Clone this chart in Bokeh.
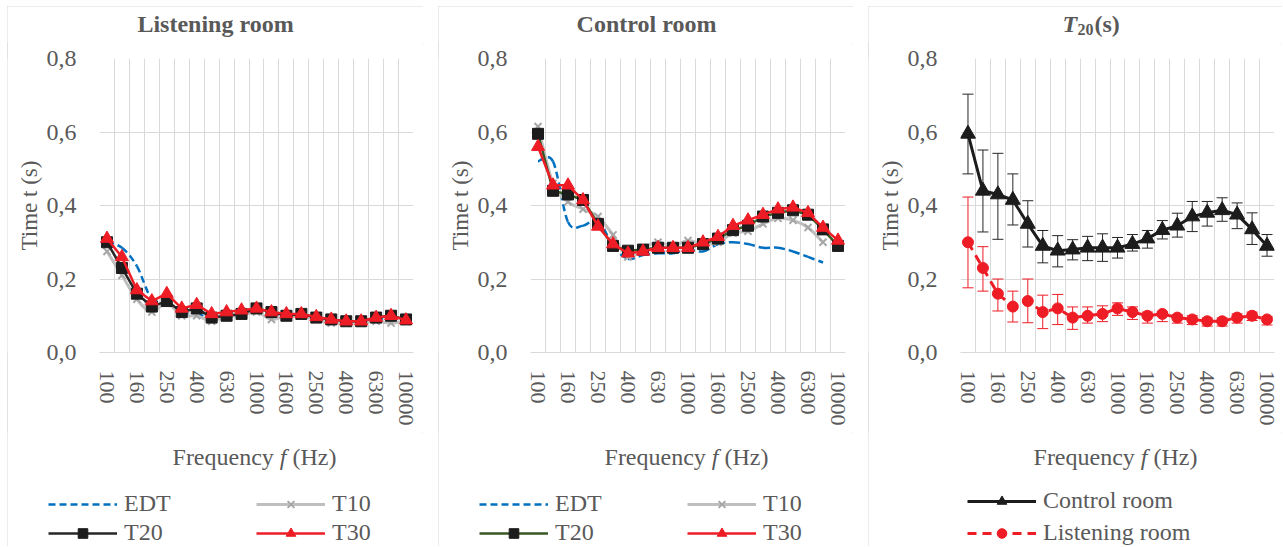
import math
from bokeh.plotting import figure
from bokeh.models import (Range1d, FixedTicker, Label, Legend, LegendItem,
                          Whisker, TeeHead, ColumnDataSource, Spacer)
from bokeh.layouts import row, column
from bokeh.embed import file_html
from bokeh.resources import INLINE

# ---------------- data ----------------
freqs = ["100", "125", "160", "200", "250", "315", "400", "500", "630", "800",
         "1000", "1250", "1600", "2000", "2500", "3150", "4000", "5000",
         "6300", "8000", "10000"]
y_ticks = [0.0, 0.2, 0.4, 0.6, 0.8]
y_tick_labels = ["0,0", "0,2", "0,4", "0,6", "0,8"]

# Listening room
lr_edt = [0.30, 0.285, 0.235, 0.145, 0.14, 0.11, 0.105, 0.095, 0.10, 0.10,
          0.115, 0.105, 0.10, 0.10, 0.095, 0.09, 0.085, 0.085, 0.09, 0.095, 0.09]
lr_t10 = [0.275, 0.21, 0.145, 0.11, 0.135, 0.10, 0.10, 0.085, 0.10, 0.10,
          0.11, 0.09, 0.10, 0.10, 0.09, 0.08, 0.08, 0.08, 0.085, 0.08, 0.085]
lr_t20 = [0.30, 0.23, 0.16, 0.125, 0.14, 0.11, 0.12, 0.095, 0.10, 0.105,
          0.12, 0.11, 0.10, 0.105, 0.095, 0.09, 0.085, 0.085, 0.095, 0.10, 0.09]
lr_t30 = [0.31, 0.26, 0.17, 0.14, 0.16, 0.12, 0.13, 0.105, 0.11, 0.115,
          0.12, 0.11, 0.105, 0.105, 0.097, 0.09, 0.085, 0.085, 0.095, 0.10, 0.088]

# Control room (EDT and T10 end at 8000 Hz)
cr_edt = [0.52, 0.52, 0.355, 0.345, 0.36, 0.29, 0.255, 0.265, 0.27, 0.27,
          0.28, 0.275, 0.295, 0.30, 0.295, 0.285, 0.285, 0.275, 0.26, 0.245]
cr_t10 = [0.615, 0.46, 0.41, 0.39, 0.37, 0.32, 0.26, 0.285, 0.30, 0.29,
          0.305, 0.295, 0.30, 0.325, 0.33, 0.35, 0.365, 0.36, 0.34, 0.30]
cr_t20 = [0.595, 0.44, 0.43, 0.415, 0.35, 0.29, 0.277, 0.28, 0.285, 0.285,
          0.285, 0.295, 0.31, 0.333, 0.345, 0.37, 0.38, 0.387, 0.375, 0.335, 0.29]
cr_t30 = [0.56, 0.455, 0.455, 0.415, 0.343, 0.295, 0.27, 0.275, 0.285, 0.285,
          0.285, 0.30, 0.315, 0.345, 0.36, 0.375, 0.39, 0.395, 0.38, 0.34, 0.305]

# T20 spread (error bars)
cr_upper = [0.703, 0.551, 0.542, 0.486, 0.413, 0.332, 0.318, 0.307, 0.316, 0.323,
            0.313, 0.321, 0.332, 0.359, 0.379, 0.411, 0.411, 0.421, 0.407, 0.38, 0.321]
cr_lower = [0.486, 0.328, 0.308, 0.347, 0.287, 0.244, 0.233, 0.252, 0.25, 0.248,
            0.257, 0.276, 0.284, 0.309, 0.314, 0.329, 0.344, 0.357, 0.337, 0.294, 0.262]
lr_upper = [0.423, 0.288, 0.20, 0.167, 0.20, 0.156, 0.158, 0.124, 0.124, 0.127,
            0.135, 0.124, 0.11, 0.11, 0.103, 0.10, 0.094, 0.094, 0.105, 0.11, 0.098]
lr_lower = [0.176, 0.167, 0.113, 0.083, 0.081, 0.065, 0.076, 0.063, 0.08, 0.084,
            0.101, 0.09, 0.08, 0.084, 0.08, 0.076, 0.072, 0.072, 0.08, 0.087, 0.075]

# ---------------- style ----------------
FONT = "Liberation Serif"
TXT = "#595959"
GRID = "#d9d9d9"
BLUE = "#0070c0"
GREY = "#bfbfbf"
BLACK = "#1c1c1c"
GREEN = "#385723"
RED = "#ee1c25"
NAN = float("nan")

TITLE_H = 37       # title strip
MAIN_TOP = 15
MAIN_H = MAIN_TOP + 294 + 80   # plot strip (frame 294 px)
BOTTOM_H = 114     # axis title + legend strip
EDGE_W = 6         # thin blank strip left of the plot

# Times metrics (per 1000 em)
W_SP = 250         # " "
W_FREQ_SP = 4471   # "Frequency "
W_F = 278          # "f"
W_HZ = 1832        # "(Hz)"


def xs_of(vals):
    return [i + 0.5 for i in range(len(vals))]


def text_fig(w, h):
    f = figure(width=w, height=h, x_range=Range1d(0, w), y_range=Range1d(0, h),
               x_axis_type=None, y_axis_type=None, toolbar_location=None,
               output_backend="svg", min_border=0)
    f.outline_line_color = None
    f.grid.visible = False
    return f


def lab(p, x, y, text, size=24, style="normal", align="left"):
    p.add_layout(Label(x=x, y=y, text=text, text_font=FONT,
                       text_font_size=f"{size}px", text_font_style=style,
                       text_color=TXT, text_align=align,
                       text_baseline="alphabetic"))


def main_fig(width, left, right):
    p = figure(width=width, height=MAIN_H, x_range=Range1d(0, len(freqs)),
               y_range=Range1d(y_ticks[0], y_ticks[-1]),
               output_backend="svg", toolbar_location=None,
               min_border_left=left, min_border_right=right,
               min_border_top=MAIN_TOP, min_border_bottom=80)
    p.outline_line_color = None
    p.xgrid.ticker = FixedTicker(ticks=list(range(len(freqs) + 1)))
    p.xgrid.grid_line_color = GRID
    p.ygrid.ticker = FixedTicker(ticks=y_ticks)
    p.ygrid.grid_line_color = GRID
    xt = [i + 0.5 for i in range(0, len(freqs), 2)]
    p.xaxis.ticker = FixedTicker(ticks=xt)
    p.xaxis.major_label_overrides = {i + 0.5: freqs[i] for i in range(0, len(freqs), 2)}
    p.xaxis.major_label_orientation = "vertical"
    p.xaxis.major_label_text_font = FONT
    p.xaxis.major_label_text_font_size = "22px"
    p.xaxis.major_label_text_color = TXT
    p.xaxis.major_label_standoff = 18
    p.xaxis.axis_line_color = GRID
    p.xaxis.major_tick_out = 0
    p.xaxis.major_tick_in = 0
    p.xaxis.major_tick_line_color = None
    p.xaxis.minor_tick_line_color = None
    p.yaxis.ticker = FixedTicker(ticks=y_ticks)
    p.yaxis.major_label_overrides = dict(zip(y_ticks, y_tick_labels))
    p.yaxis.major_label_text_font = FONT
    p.yaxis.major_label_text_font_size = "24px"
    p.yaxis.major_label_text_color = TXT
    p.yaxis.major_label_standoff = 23
    p.yaxis.axis_line_color = None
    p.yaxis.major_tick_out = 0
    p.yaxis.major_tick_in = 0
    p.yaxis.major_tick_line_color = None
    p.yaxis.minor_tick_line_color = None
    p.yaxis.axis_label = "Time t (s)"
    p.yaxis.axis_label_text_font = FONT
    p.yaxis.axis_label_text_font_size = "23px"
    p.yaxis.axis_label_text_font_style = "normal"
    p.yaxis.axis_label_text_color = TXT
    p.yaxis.axis_label_standoff = 2
    return p


def x_title(f, cx, size=24):
    k = size / 1000.0
    total = (W_FREQ_SP + W_F + W_SP + W_HZ) * k
    x0 = cx - total / 2
    y = 90
    lab(f, x0, y, "Frequency", size)
    lab(f, x0 + W_FREQ_SP * k, y, "f", size, "italic")
    lab(f, x0 + (W_FREQ_SP + W_F + W_SP) * k, y, "(Hz)", size)


def smooth(p, vals, **kw):
    xs = xs_of(vals)
    n = len(vals)
    d = dict(x0=[], y0=[], x1=[], y1=[], cx0=[], cy0=[], cx1=[], cy1=[])
    for i in range(n - 1):
        a, b = max(i - 1, 0), min(i + 2, n - 1)
        d["x0"].append(xs[i]); d["y0"].append(vals[i])
        d["x1"].append(xs[i + 1]); d["y1"].append(vals[i + 1])
        d["cx0"].append(xs[i] + (xs[i + 1] - xs[a]) / 6)
        d["cy0"].append(vals[i] + (vals[i + 1] - vals[a]) / 6)
        d["cx1"].append(xs[i + 1] - (xs[b] - xs[i]) / 6)
        d["cy1"].append(vals[i + 1] - (vals[b] - vals[i]) / 6)
    p.bezier(x0="x0", y0="y0", x1="x1", y1="y1", cx0="cx0", cy0="cy0",
             cx1="cx1", cy1="cy1", source=ColumnDataSource(d), **kw)


def add_legend(f, x, y, items, spacing=2, label_width=126):
    lg = Legend(items=items, location=(x, y), orientation="vertical",
                label_text_font=FONT, label_text_font_size="24px",
                label_text_color=TXT, glyph_width=69, glyph_height=24,
                label_height=24, label_standoff=7, label_width=label_width,
                spacing=spacing, padding=0, margin=0,
                border_line_color=None, background_fill_alpha=0)
    f.add_layout(lg)


def proxy(f, line_kw, marker_kw=None):
    rs = [f.line([NAN], [NAN], **line_kw)]
    if marker_kw:
        rs.append(f.scatter([NAN], [NAN], **marker_kw))
    return rs


def assemble(title_fig, main, bottom):
    edge = text_fig(EDGE_W, MAIN_H)
    return column(title_fig, row(edge, main, spacing=0), bottom, spacing=0,
                  styles={"outline": "1px solid #d9d9d9", "outline-offset": "-1px"})


EDT_KW = dict(line_color=BLUE, line_width=2.5, line_dash="7 4")
T10_KW = dict(line_color=GREY, line_width=3)
T10_M = dict(marker="x", size=10, line_color="#a6a6a6", line_width=2)
T20_M = dict(marker="square", size=11, fill_color=BLACK, line_color=BLACK)
T30_KW = dict(line_color=RED, line_width=2.5)
T30_M = dict(marker="triangle", size=13, fill_color=RED, line_color=RED)


def room_panel(width, frame_left, frame_w, name, cx_title, cx_x,
               edt, t10, t20, t30, t20_line, leg_x1, leg_x2):
    tf = text_fig(width, TITLE_H)
    lab(tf, cx_title, 20, name, 24, "bold", align="center")

    p = main_fig(width - EDGE_W, frame_left - EDGE_W, width - frame_left - frame_w)
    smooth(p, edt, **EDT_KW)
    smooth(p, t10, **T10_KW)
    p.scatter(xs_of(t10), t10, **T10_M)
    p.line(xs_of(t20), t20, line_color=t20_line, line_width=2.5)
    p.scatter(xs_of(t20), t20, **T20_M)
    p.line(xs_of(t30), t30, **T30_KW)
    p.scatter(xs_of(t30), t30, **T30_M)

    bf = text_fig(width, BOTTOM_H)
    x_title(bf, cx_x)
    r_edt = proxy(bf, EDT_KW)
    r_t10 = proxy(bf, T10_KW, T10_M)
    r_t20 = proxy(bf, dict(line_color=t20_line, line_width=2.5), T20_M)
    r_t30 = proxy(bf, T30_KW, T30_M)
    add_legend(bf, leg_x1, 0, [LegendItem(label="EDT", renderers=r_edt),
                               LegendItem(label="T20", renderers=r_t20)])
    add_legend(bf, leg_x2, 0, [LegendItem(label="T10", renderers=r_t10),
                               LegendItem(label="T30", renderers=r_t30)])
    return assemble(tf, p, bf)


panel1 = room_panel(416, 92, 314, "Listening room", 208, 247,
                    lr_edt, lr_t10, lr_t20, lr_t30, "#262626", 41, 249)
panel2 = room_panel(415, 87, 320, "Control room", 208, 248,
                    cr_edt, cr_t10, cr_t20, cr_t30, GREEN, 41, 249)

# ---------------- T20 comparison panel ----------------
W3 = 414
tf3 = text_fig(W3, TITLE_H)
lab(tf3, 194, 20, "T", 24, "bold italic")
lab(tf3, 209, 14, "20", 16, "bold")
lab(tf3, 226, 20, "(s)", 24, "bold")

p3 = main_fig(W3 - EDGE_W, 89 - EDGE_W, W3 - 89 - 317)
xc = xs_of(cr_t20)
src_c = ColumnDataSource(dict(x=xc, up=cr_upper, lo=cr_lower))
src_l = ColumnDataSource(dict(x=xs_of(lr_t20), up=lr_upper, lo=lr_lower))
p3.add_layout(Whisker(source=src_c, base="x", upper="up", lower="lo",
                      dimension="height", line_color="#262626", line_width=1,
                      upper_head=TeeHead(size=11, line_color="#262626", line_width=1),
                      lower_head=TeeHead(size=11, line_color="#262626", line_width=1)))
p3.add_layout(Whisker(source=src_l, base="x", upper="up", lower="lo",
                      dimension="height", line_color=RED, line_width=1,
                      upper_head=TeeHead(size=11, line_color=RED, line_width=1),
                      lower_head=TeeHead(size=11, line_color=RED, line_width=1)))
CR_KW = dict(line_color=BLACK, line_width=3)
CR_M = dict(marker="triangle", size=15, fill_color=BLACK, line_color=BLACK)
LR_KW = dict(line_color=RED, line_width=3, line_dash="9 6")
LR_M = dict(marker="circle", size=11, fill_color=RED, line_color=RED)
p3.line(xc, cr_t20, **CR_KW)
p3.scatter(xc, cr_t20, **CR_M)
p3.line(xs_of(lr_t20), lr_t20, **LR_KW)
p3.scatter(xs_of(lr_t20), lr_t20, **LR_M)

bf3 = text_fig(W3, BOTTOM_H)
x_title(bf3, 247)
add_legend(bf3, 99, 0, [LegendItem(label="Control room", renderers=proxy(bf3, CR_KW, CR_M)),
                        LegendItem(label="Listening room", renderers=proxy(bf3, LR_KW, LR_M))],
           spacing=5, label_width=60)
panel3 = assemble(tf3, p3, bf3)

panels = row(panel1, panel2, panel3, spacing=15)
layout = column(Spacer(height=6), row(Spacer(width=7), panels, spacing=0), spacing=0)
open("out.html", "w").write(file_html(layout, INLINE))
